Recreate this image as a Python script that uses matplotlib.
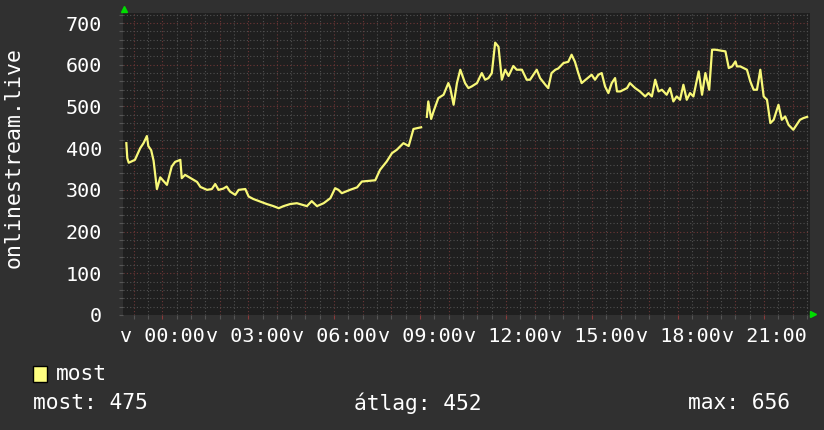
import matplotlib
matplotlib.use('Agg')
import matplotlib.pyplot as plt
import numpy as np

# minutes from 00:00 and value of the "most" series
minutes = [-75, -73, -70, -57, -46, -39, -32, -29, -23, -18, -15, -11, -4, 3, 10, 20, 27, 38, 41, 48,
           73, 80, 94, 104, 111, 118, 128, 135, 142, 153, 160, 174, 181, 191, 205, 219, 233, 244, 254, 268,
           282, 303, 313, 324, 338, 352, 362, 369, 376, 393, 408, 418, 446, 456, 470, 481, 491, 505, 516, 526,
           542, 544, 554, 557, 563, 568, 578, 589, 599, 603, 610, 617, 624, 634, 641, 648, 659, 669, 676, 683, 690,
           697, 704, 711, 718, 725, 735, 742, 753, 763, 770, 784, 791, 802, 808, 815, 823, 829, 840, 850, 857,
           864, 871, 878, 899, 906, 913, 920, 927, 934, 941, 948, 952, 959, 973, 979, 990, 1000, 1011, 1018, 1025,
           1032, 1039, 1046, 1056, 1063, 1070, 1077, 1084, 1091, 1098, 1105, 1112, 1123, 1130, 1137, 1145, 1151, 1158, 1179, 1186,
           1193, 1200, 1203, 1210, 1224, 1231, 1238, 1245, 1252, 1259, 1266, 1273, 1280, 1290, 1297, 1304, 1311, 1321, 1335, 1342,
           1350]
values = [412, 376, 365, 372, 400, 412, 429, 405, 395, 370, 340, 302, 330, 321, 312, 356, 367, 372, 328, 336,
          319, 307, 300, 302, 314, 300, 303, 308, 296, 288, 300, 302, 284, 278, 272, 266, 261, 256, 261, 266,
          268, 261, 273, 261, 268, 280, 304, 300, 292, 300, 306, 320, 323, 348, 368, 388, 396, 412, 405, 446,
          450, np.nan, 475, 512, 470, 488, 520, 528, 556, 544, 504, 556, 588, 556, 544, 548, 556, 580, 564, 568, 580,
          653, 643, 564, 588, 573, 597, 588, 588, 564, 564, 588, 568, 552, 544, 580, 588, 591, 604, 607, 624,
          607, 580, 556, 576, 564, 576, 580, 548, 532, 556, 568, 536, 536, 544, 556, 544, 536, 524, 532, 524,
          564, 536, 540, 528, 544, 512, 524, 516, 552, 516, 532, 524, 584, 528, 580, 540, 636, 636, 632, 592,
          596, 608, 596, 596, 588, 560, 540, 540, 588, 524, 516, 460, 468, 504, 468, 476, 456, 444, 468, 472,
          475]

tick_minutes = [0, 180, 360, 540, 720, 900, 1080, 1260]
tick_labels = ['v 00:00', 'v 03:00', 'v 06:00', 'v 09:00', 'v 12:00', 'v 15:00', 'v 18:00', 'v 21:00']
legend_name = 'most'
stats = ['most: 475', 'átlag: 452', 'max: 656']

plt.rcParams['font.family'] = 'DejaVu Sans Mono'
fig = plt.figure(figsize=(8.24, 4.30), dpi=100, facecolor='#303030')
ax = fig.add_axes([123/824, 115/430, 687/824, 302/430], facecolor='#1f1f1f')

ax.plot(minutes, values, color='#f8f878', lw=1.6)

ax.set_xlim(-82, 1356)
ax.set_ylim(0, 724)
ax.set_xticks(tick_minutes)
ax.set_xticklabels(tick_labels)
ax.set_xticks(np.arange(-60, 1357, 30), minor=True)
ax.set_yticks(np.arange(0, 701, 100))
ax.set_yticks(np.arange(0, 721, 20), minor=True)

# grid: red every hour / 100, grey every 30 min / 20
for m in np.arange(-60, 1357, 30):
    c = '#6e3636' if m % 60 == 0 else '#505050'
    ax.axvline(m, color=c, lw=0.8, ls=(0, (1, 2)), zorder=0)
for v in np.arange(20, 721, 20):
    c = '#6e3636' if v % 100 == 0 else '#505050'
    ax.axhline(v, color=c, lw=0.8, ls=(0, (1, 2)), zorder=0)

for s in ax.spines.values():
    s.set_visible(False)
ax.tick_params(axis='both', which='both', colors='#ffffff', labelsize=14.5, length=3, width=0.8)
ax.tick_params(axis='x', which='major', color='#8a3a3a', pad=6)
ax.tick_params(axis='x', which='minor', color='#555555')
ax.tick_params(axis='y', which='both', color='#555555', pad=12)

# axis arrows
ax.plot(0.002, 1.012, marker='^', color='#00dd00', markersize=5, transform=ax.transAxes, clip_on=False)
ax.plot(1.005, 0.003, marker='>', color='#00dd00', markersize=5, transform=ax.transAxes, clip_on=False)

fig.text(14/824, 1 - 157/430, 'onlinestream.live', rotation=90, color='#ffffff',
         fontsize=15.5, ha='center', va='center')

# legend
fig.patches.append(plt.Rectangle((33/824, 1 - 382/430), 14/824, 16/430, transform=fig.transFigure,
                                 facecolor='#ffff80', edgecolor='#000000', lw=1))
fig.text(56/824, 1 - 374/430, legend_name, color='#ffffff', fontsize=15.3, va='center')
fig.text(33/824, 1 - 403/430, stats[0], color='#ffffff', fontsize=15.3, va='center')
fig.text(354/824, 1 - 403/430, stats[1], color='#ffffff', fontsize=15.3, va='center')
fig.text(790/824, 1 - 403/430, stats[2], color='#ffffff', fontsize=15.3, va='center', ha='right')

fig.savefig('out.png', dpi=100, facecolor=fig.get_facecolor())
